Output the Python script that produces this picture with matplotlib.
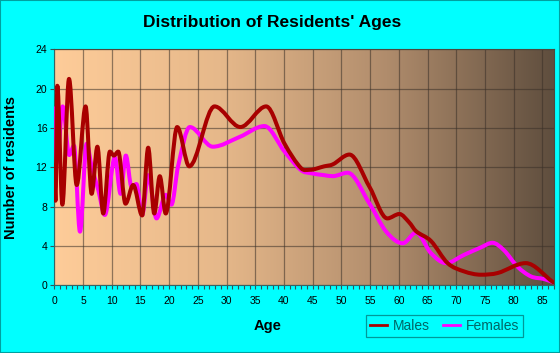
import numpy as np
import matplotlib
matplotlib.use("Agg")
import matplotlib.pyplot as plt
from matplotlib.path import Path
from matplotlib.patches import PathPatch, Rectangle
from matplotlib.lines import Line2D
from matplotlib.colors import LinearSegmentedColormap

plt.rcParams['font.family'] = 'Liberation Sans'

# values
male_age = [0, 0.2, 0.52, 1.4, 2.56, 3.9, 5.45, 6.5, 7.5, 8.52, 9.68, 10.38, 11.13,
            12.4, 13.74, 15.3, 16.35, 17.4, 18.37, 19.4, 21.4, 23.5, 27.9, 32.4, 36.9,
            40.1, 43.0, 44.5, 47.0, 48.5, 51.4, 54.9, 58.0, 60.1, 61.8, 63.0, 65.6,
            68.5, 71.4, 74.3, 77.2, 82.1, 86.9]
male_val = [12.2, 8.6, 20.3, 8.2, 21.0, 10.2, 18.2, 9.3, 14.1, 7.3, 13.6, 13.2, 13.6,
            8.3, 10.2, 7.1, 14.0, 7.3, 11.1, 7.3, 16.1, 12.1, 18.2, 16.1, 18.2,
            14.4, 11.9, 11.75, 12.1, 12.3, 13.3, 10.0, 6.8, 7.25, 6.4, 5.5, 4.5,
            2.25, 1.4, 1.07, 1.24, 2.25, 0.3]

fem_age = [0, 0.45, 1.45, 2.6, 3.42, 4.47, 5.63, 6.5, 7.65, 8.8, 10.55, 11.54, 12.46,
           13.45, 14.3, 15.3, 16.35, 17.8, 19.4, 20.4, 21.55, 23.6, 27.6, 32.3, 36.6,
           40.1, 43.0, 44.7, 47.0, 48.5, 51.1, 54.9, 57.8, 60.7, 63.0, 65.6, 68.2,
           71.4, 74.3, 76.3, 78.3, 80.65, 83.0, 85.3, 86.9]
fem_val = [18.0, 12.5, 18.2, 13.25, 14.2, 5.45, 14.4, 12.1, 9.7, 7.15, 13.0, 9.3, 13.2,
           10.0, 10.3, 7.15, 11.2, 6.8, 9.2, 8.2, 12.1, 16.1, 14.1, 15.1, 16.2,
           13.6, 11.7, 11.4, 11.2, 11.1, 11.45, 8.3, 5.45, 4.27, 5.35, 3.26, 2.25,
           3.1, 3.85, 4.32, 3.57, 1.9, 0.9, 0.63, 0.3]

xticks = list(range(0, 86, 5))
yticks = list(range(0, 25, 4))


def smooth_path(x, y):
    # cubic bezier through the points (flat tangent at peaks / troughs)
    x = np.asarray(x, float)
    y = np.asarray(y, float)
    n = len(x)
    m = np.zeros(n)
    for i in range(n):
        if i == 0:
            m[i] = (y[1] - y[0]) / (x[1] - x[0])
        elif i == n - 1:
            m[i] = (y[-1] - y[-2]) / (x[-1] - x[-2])
        elif (y[i] - y[i-1]) * (y[i+1] - y[i]) <= 0:
            m[i] = 0
        else:
            m[i] = (y[i+1] - y[i-1]) / (x[i+1] - x[i-1])
    verts = [(x[0], y[0])]
    codes = [Path.MOVETO]
    for i in range(n - 1):
        dx = x[i+1] - x[i]
        verts += [(x[i] + dx/3, y[i] + m[i]*dx/3),
                  (x[i+1] - dx/3, y[i+1] - m[i+1]*dx/3),
                  (x[i+1], y[i+1])]
        codes += [Path.CURVE4] * 3
    return Path(verts, codes)


fig = plt.figure(figsize=(5.6, 3.53), dpi=100, facecolor='#00ffff')
ax = fig.add_axes([0.097, 0.192, 0.892, 0.668])

cmap = LinearSegmentedColormap.from_list('bg', ['#fecc99', '#e6b88a', '#b08c6c', '#5f4e3e'])
ax.imshow(np.linspace(0, 1, 256).reshape(1, -1), cmap=cmap, aspect='auto',
          extent=[0, 87, 0, 24], zorder=0)

for xs, ys, col in [(fem_age, fem_val, '#ff00ff'), (male_age, male_val, '#a80000')]:
    ax.add_patch(PathPatch(smooth_path(xs, ys), fill=False, edgecolor=col,
                           lw=2.9, capstyle='round', joinstyle='round', zorder=3))

ax.set_xlim(0, 87)
ax.set_ylim(0, 24)
ax.set_xticks(xticks)
ax.set_xticks(range(0, 88), minor=True)
ax.set_yticks(yticks)
ax.grid(True, which='major', color='#3a3028', alpha=0.55, lw=0.9)
ax.tick_params(axis='both', which='both', direction='out', length=3, width=0.8,
               color='#335555', labelsize=7.5, pad=2)
ax.tick_params(axis='x', pad=5)
for s in ax.spines.values():
    s.set_color('#4a4a40')
    s.set_linewidth(0.8)
ax.spines['left'].set_color('#336666')
ax.spines['bottom'].set_color('#336666')

fig.text(0.486, 0.935, "Distribution of Residents' Ages", ha='center', va='center',
         fontsize=12.5, fontweight='bold')
ax.set_xlabel('Age', fontsize=10.5, fontweight='bold')
ax.xaxis.set_label_coords(0.426, -0.142)
ax.set_ylabel('Number of residents', fontsize=10.5, fontweight='bold')
ax.yaxis.set_label_coords(-0.072, 0.5)

handles = [Line2D([], [], color='#a80000', lw=2), Line2D([], [], color='#ff00ff', lw=2)]
leg = fig.legend(handles, ['Males', 'Females'], ncol=2, loc='center',
                 bbox_to_anchor=(0.794, 0.076), frameon=True, fancybox=False,
                 facecolor='#00ffff', edgecolor='#008080',
                 handlelength=1.2, handletextpad=0.4, columnspacing=1.0,
                 borderpad=0.3, prop={'size': 10})
for t in leg.get_texts():
    t.set_color('#006666')
leg.get_frame().set_linewidth(0.9)

fig.patches.append(Rectangle((0, 0), 1, 1, transform=fig.transFigure, fill=False,
                             edgecolor='#00a0a0', lw=1.5))

fig.savefig('out.png', dpi=100, facecolor=fig.get_facecolor())
